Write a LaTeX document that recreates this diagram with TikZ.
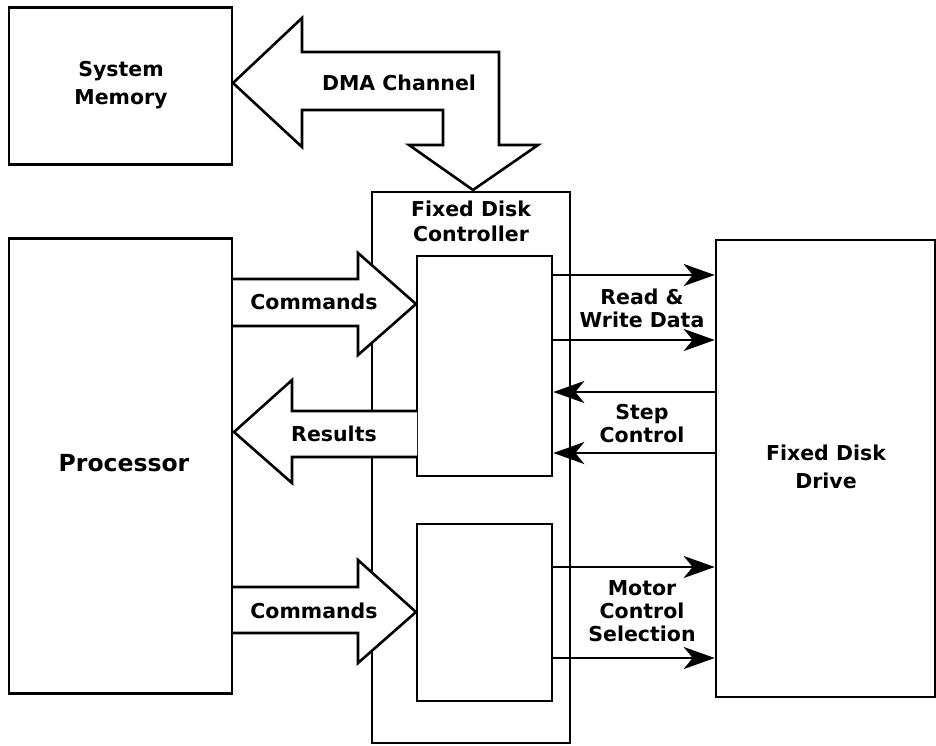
\documentclass[tikz,border=0pt]{standalone}
\usepackage{fontspec}
\setmainfont{DejaVu Sans}
\usetikzlibrary{arrows.meta}
\begin{document}
\begin{tikzpicture}[x=1pt,y=-1pt,line width=2.6pt,
  box/.style={draw,inner sep=0pt},
  lbl/.style={font=\bfseries\fontsize{20.5}{23}\selectfont,align=center,inner sep=0pt},
  widelbl/.style={font=\bfseries\fontsize{20.5}{27.5}\selectfont,align=center,inner sep=0pt},
  biglbl/.style={font=\bfseries\fontsize{23.5}{26}\selectfont,align=center,inner sep=0pt},
  blk/.style={draw,fill=white,line join=miter},
  sarr/.style={-{Stealth[length=31pt,width=22pt,inset=9pt]}}]
\useasboundingbox (0,0) rectangle (936,745);
% boxes
\node[box,minimum width=223pt,minimum height=157pt] (mem) at (120.5,86) {};
\node[box,minimum width=223pt,minimum height=455pt] (proc) at (120.5,466) {};
\node[box,minimum width=198pt,minimum height=551pt] (ctrl) at (471,467.5) {};
\node[box,minimum width=135pt,minimum height=220pt] (in1) at (484.5,366) {};
\node[box,minimum width=135pt,minimum height=177pt] (in2) at (484.5,612.5) {};
\node[box,minimum width=219pt,minimum height=457pt] (drive) at (825.5,468.5) {};
% block arrows
\draw[blk] (233,83) -- (302,18) -- (302,52) -- (499,52) -- (499,145) -- (538,145)
  -- (473,190) -- (409,145) -- (443,145) -- (443,110) -- (302,110) -- (302,147) -- cycle;
\draw[blk] (233,279) -- (358,279) -- (358,253) -- (416,304) -- (358,355) -- (358,326) -- (233,326);
\draw[blk] (417,411) -- (292,411) -- (292,380) -- (234,432) -- (292,483) -- (292,457) -- (417,457);
\draw[blk] (233,587) -- (358,587) -- (358,560) -- (416,612) -- (358,663) -- (358,633) -- (233,633);
% labels
\node[widelbl] (tmem) at (121,85) {System\\Memory};
\node[lbl] (tdma) at (399,83) {DMA Channel};
\node[lbl,font=\bfseries\fontsize{20.5}{25}\selectfont] (tctrl) at (471,221) {Fixed Disk\\Controller};
\node[lbl] (tcmd1) at (314,302) {Commands};
\node[lbl] (tres) at (334,434) {Results};
\node[lbl] (tcmd2) at (314,611) {Commands};
\node[biglbl] (tproc) at (124,463) {Processor};
\node[widelbl] (tdrive) at (826,467) {Fixed Disk\\Drive};
\node[lbl] (trw) at (642,308) {Read \&\\Write Data};
\node[lbl] (tstep) at (642,423.5) {Step\\Control};
\node[lbl] (tmot) at (642,611) {Motor\\Control\\Selection};
% signal connectors
\coordinate (r1) at (0,275);
\coordinate (r2) at (0,340);
\coordinate (s1) at (0,392);
\coordinate (s2) at (0,453);
\coordinate (m1) at (0,567);
\coordinate (m2) at (0,658);
\draw[sarr] (in1.east |- r1) -- (drive.west |- r1);
\draw[sarr] (in1.east |- r2) -- (drive.west |- r2);
\draw[sarr] (drive.west |- s1) -- (in1.east |- s1);
\draw[sarr] (drive.west |- s2) -- (in1.east |- s2);
\draw[sarr] (in2.east |- m1) -- (drive.west |- m1);
\draw[sarr] (in2.east |- m2) -- (drive.west |- m2);
\end{tikzpicture}
\end{document}
